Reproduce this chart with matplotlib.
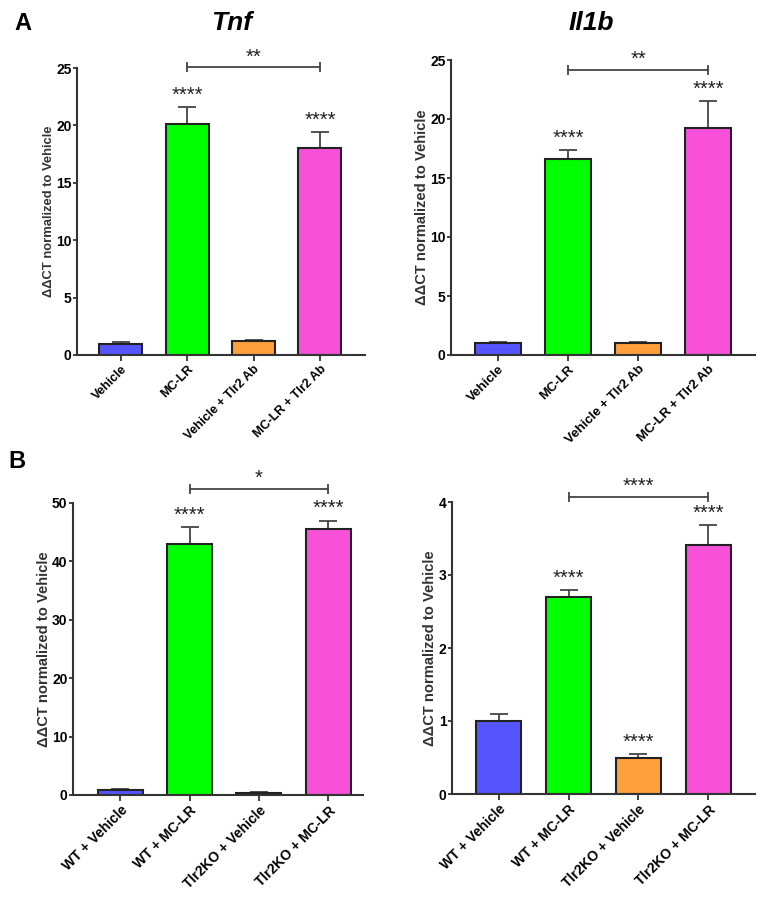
import matplotlib
matplotlib.use("Agg")
import matplotlib.pyplot as plt
import numpy as np

plt.rcParams['font.family'] = ['Liberation Sans', 'DejaVu Sans']

# ---------------- data ----------------
cats_a = ["Vehicle", "MC-LR", "Vehicle + Tlr2 Ab", "MC-LR + Tlr2 Ab"]
cats_b = ["WT + Vehicle", "WT + MC-LR", "Tlr2KO + Vehicle", "Tlr2KO + MC-LR"]

tnf_vals = [1.0, 20.1, 1.2, 18.0]
tnf_err = [0.1, 1.5, 0.1, 1.4]
tnf_stars = ["", "****", "", "****"]

il1b_vals = [1.0, 16.6, 1.0, 19.2]
il1b_err = [0.06, 0.8, 0.07, 2.3]
il1b_stars = ["", "****", "", "****"]

tnfb_vals = [0.9, 42.9, 0.4, 45.5]
tnfb_err = [0.1, 3.0, 0.1, 1.5]
tnfb_stars = ["", "****", "", "****"]

il1bb_vals = [1.0, 2.70, 0.49, 3.41]
il1bb_err = [0.09, 0.10, 0.06, 0.28]
il1bb_stars = ["", "****", "****", "****"]

bar_colors = ["#5555FF", "#00FF00", "#FFA03C", "#F850D8"]

# bracket: (from index, to index, y value, label)
brackets = [
    (1, 3, 25.05, "**"),
    (1, 3, 24.15, "**"),
    (1, 3, 52.4, "*"),
    (1, 3, 4.07, "****"),
]

yticks_list = [
    [0, 5, 10, 15, 20, 25],
    [0, 5, 10, 15, 20, 25],
    [0, 10, 20, 30, 40, 50],
    [0, 1, 2, 3, 4],
]
ylims = [25, 25, 50, 4]

W, H = 764, 899
fig = plt.figure(figsize=(W / 100, H / 100), dpi=100)

def px_axes(l, r, b, t):
    return [l / W, 1 - b / H, (r - l) / W, (b - t) / H]

axes_rects = [
    px_axes(77, 365, 355, 68),
    px_axes(451, 755, 355, 60),
    px_axes(73, 363, 795, 503),
    px_axes(452, 755, 794, 502),
]
xlims = [(-0.66, 3.68), (-0.67, 3.67), (-0.68, 3.5), (-0.67, 3.67)]

panels = [
    (cats_a, tnf_vals, tnf_err, tnf_stars, 9.4, 9),
    (cats_a, il1b_vals, il1b_err, il1b_stars, 10.6, 9.5),
    (cats_b, tnfb_vals, tnfb_err, tnfb_stars, 10.6, 10),
    (cats_b, il1bb_vals, il1bb_err, il1bb_stars, 10.6, 10),
]

dark = "#333333"
for i, (cats, vals, errs, stars, ylfs, xlfs) in enumerate(panels):
    ax = fig.add_axes(axes_rects[i])
    x = np.arange(len(cats))
    ax.bar(x, vals, width=0.65, color=bar_colors, edgecolor="#222222",
           linewidth=1.5, zorder=2)
    lower = np.zeros(len(vals))
    ax.errorbar(x, vals, yerr=[lower, errs], fmt="none", ecolor="#444444",
                elinewidth=1.3, capsize=6.5, capthick=1.3, zorder=1)
    for xi, v, e, s in zip(x, vals, errs, stars):
        if s:
            ax.annotate(s, (xi, v + e), xytext=(0, 4.5), textcoords="offset points",
                        ha="center", va="baseline", fontsize=14.5, color="#222222",
                        annotation_clip=False)
    a, b, yb, lab = brackets[i]
    ax.plot([a, b], [yb, yb], color="#444444", lw=1.3, clip_on=False,
            marker="|", markersize=7, markeredgewidth=1.3)
    ax.annotate(lab, ((a + b) / 2, yb), xytext=(0, 3.5), textcoords="offset points",
                ha="center", va="baseline", fontsize=14.5, color="#222222",
                annotation_clip=False)

    ax.set_xlim(*xlims[i])
    ax.set_ylim(0, ylims[i])
    ax.set_yticks(yticks_list[i])
    ax.set_yticklabels([str(t) for t in yticks_list[i]], fontsize=10, fontweight="bold")
    ax.set_xticks(x)
    ax.set_xticklabels(cats, rotation=45, ha="right", rotation_mode="anchor",
                       fontsize=xlfs, fontweight="bold")
    ax.set_ylabel("ΔΔCT normalized to Vehicle", fontsize=ylfs, fontweight="bold",
                  color=dark, labelpad=1)
    for sp in ["top", "right"]:
        ax.spines[sp].set_visible(False)
    for sp in ["left", "bottom"]:
        ax.spines[sp].set_color(dark)
        ax.spines[sp].set_linewidth(1.5)
    ax.tick_params(axis="y", direction="out", length=3, width=1.3, color=dark, pad=1)
    ax.tick_params(axis="x", direction="out", length=4, width=1.3, color=dark, pad=2)

fig.text(23 / W, 1 - 24 / H, "A", fontsize=17, fontweight="bold", ha="center", va="center")
fig.text(17 / W, 1 - 462 / H, "B", fontsize=17, fontweight="bold", ha="center", va="center")
fig.text(232 / W, 1 - 23 / H, "Tnf", fontsize=19, fontweight="bold", style="italic",
         ha="center", va="center")
fig.text(591 / W, 1 - 23 / H, "Il1b", fontsize=19, fontweight="bold", style="italic",
         ha="center", va="center")

fig.savefig("out.png", dpi=100)
